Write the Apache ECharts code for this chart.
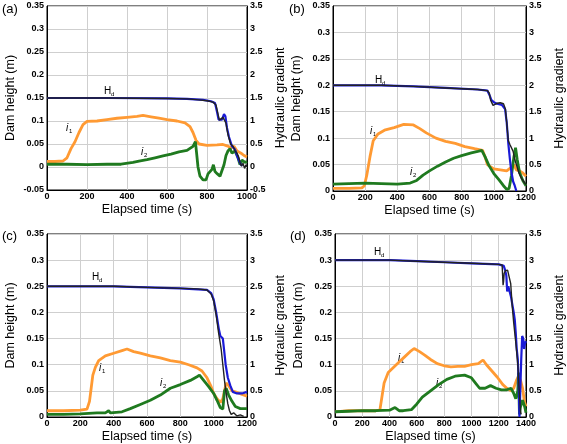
<!DOCTYPE html>
<html><head><meta charset="utf-8">
<script src="https://cdn.jsdelivr.net/npm/echarts@6/dist/echarts.min.js"></script>
<style>html,body{margin:0;padding:0;background:#fff}#c{width:567px;height:444px}</style>
</head><body><div id="c"></div>
<script>
// ---------- Panel (a) ----------
const aHdBlack = [[0,0.15],[300,0.15],[600,0.149],[700,0.148],[760,0.146],[800,0.144],[830,0.141],[845,0.135],[855,0.115],[862,0.102],[872,0.103],[880,0.108],[888,0.112],[895,0.095],[905,0.07],[918,0.05],[930,0.045],[940,0.035],[950,0.03],[958,0.022],[965,0.01],[972,0.002],[980,0.008],[988,-0.003],[995,0.005],[1000,0.0]];
const aHdBlue = [[0,0.15],[300,0.15],[600,0.149],[700,0.148],[780,0.146],[820,0.143],[840,0.139],[850,0.12],[858,0.103],[865,0.1],[875,0.103],[885,0.115],[892,0.11],[900,0.085],[910,0.065],[925,0.045],[940,0.038],[950,0.025],[962,0.012],[970,0.005],[978,0.003]];
const aI1 = [[0,0.12],[40,0.12],[80,0.13],[100,0.2],[120,0.4],[140,0.55],[160,0.75],[180,0.92],[200,0.99],[250,1.0],[300,1.03],[350,1.06],[400,1.08],[450,1.1],[480,1.12],[520,1.09],[560,1.06],[600,1.03],[650,1.0],[690,0.96],[715,0.88],[730,0.75],[745,0.58],[760,0.5],[800,0.47],[850,0.48],[880,0.49],[900,0.46],[920,0.42],[935,0.45],[950,0.35],[970,0.3],[985,0.25],[1000,0.22]];
const aI2 = [[0,0.06],[100,0.06],[200,0.05],[300,0.06],[370,0.06],[380,0.1],[430,0.1],[460,0.13],[500,0.16],[540,0.2],[580,0.24],[620,0.28],[660,0.33],[700,0.36],[730,0.45],[742,0.55],[748,0.3],[755,0.0],[765,-0.2],[780,-0.28],[795,-0.28],[805,-0.15],[815,-0.1],[825,-0.05],[832,0.05],[840,-0.1],[852,-0.15],[865,-0.2],[875,-0.18],[885,0.05],[895,0.25],[905,0.35],[915,0.4],[925,0.3],[940,0.35],[955,0.2],[965,0.05],[975,0.15],[990,0.1],[1000,0.12]];
// ---------- Panel (b) ----------
const bHdBlack = [[0,0.2],[300,0.2],[500,0.198],[700,0.195],[900,0.192],[960,0.19],[972,0.185],[980,0.172],[995,0.162],[1005,0.16],[1020,0.166],[1040,0.167],[1060,0.165],[1072,0.155],[1080,0.13],[1090,0.095],[1100,0.088],[1110,0.085],[1120,0.075],[1130,0.06],[1140,0.05],[1155,0.035],[1170,0.025],[1185,0.018],[1200,0.012]];
const bHdBlue = [[0,0.2],[300,0.2],[500,0.198],[700,0.195],[900,0.192],[960,0.19],[975,0.18],[985,0.172],[1000,0.168],[1020,0.165],[1050,0.163],[1070,0.155],[1080,0.13],[1090,0.09],[1100,0.06],[1110,0.035],[1120,0.018],[1130,0.01],[1140,0.0]];
const bI1 = [[0,0.05],[100,0.05],[180,0.06],[195,0.1],[210,0.3],[230,0.65],[250,0.95],[280,1.08],[320,1.15],[380,1.2],[440,1.26],[500,1.25],[540,1.18],[580,1.1],[640,1.0],[700,0.94],[760,0.9],[820,0.84],[880,0.8],[930,0.77],[945,0.65],[960,0.5],[1000,0.42],[1040,0.4],[1080,0.38],[1110,0.45],[1125,0.5],[1140,0.4],[1160,0.38],[1180,0.34],[1200,0.28]];
const bI2 = [[0,0.13],[100,0.14],[200,0.15],[300,0.14],[400,0.13],[480,0.15],[520,0.2],[560,0.3],[600,0.38],[650,0.47],[700,0.55],[750,0.62],[800,0.67],[860,0.72],[900,0.75],[925,0.77],[945,0.65],[970,0.48],[1000,0.33],[1030,0.22],[1060,0.1],[1080,0.03],[1095,0.05],[1110,0.3],[1125,0.65],[1135,0.82],[1145,0.6],[1160,0.35],[1180,0.2],[1200,0.1]];
// ---------- Panel (c) ----------
const cHdBlack = [[0,0.25],[400,0.25],[600,0.248],[800,0.246],[900,0.245],[960,0.243],[985,0.235],[1000,0.222],[1015,0.195],[1030,0.16],[1045,0.13],[1055,0.1],[1065,0.07],[1075,0.045],[1085,0.025],[1095,0.012],[1105,0.005],[1120,0.008],[1140,0.002],[1160,0.004],[1180,0.001]];
const cHdBlue = [[0,0.25],[400,0.25],[600,0.248],[800,0.246],[960,0.243],[985,0.237],[1000,0.225],[1015,0.2],[1030,0.17],[1040,0.155],[1055,0.15],[1062,0.13],[1072,0.1],[1085,0.075],[1100,0.06],[1115,0.048],[1140,0.045],[1170,0.045],[1200,0.048]];
const cI1 = [[0,0.12],[100,0.12],[200,0.13],[240,0.15],[255,0.3],[265,0.55],[275,0.8],[290,0.95],[310,1.08],[350,1.17],[400,1.22],[450,1.27],[480,1.3],[520,1.25],[560,1.22],[620,1.17],[680,1.13],[740,1.08],[800,1.05],[850,1.0],[900,0.94],[930,0.88],[960,0.75],[985,0.58],[1000,0.45],[1020,0.35],[1040,0.28],[1055,0.35],[1065,0.5],[1075,0.65],[1090,0.6],[1110,0.5],[1140,0.47],[1170,0.43],[1200,0.4]];
const cI2 = [[0,0.05],[100,0.05],[200,0.06],[300,0.08],[350,0.08],[370,0.12],[380,0.08],[450,0.1],[500,0.16],[560,0.24],[620,0.32],[680,0.42],[740,0.55],[800,0.62],[860,0.7],[900,0.77],[915,0.8],[940,0.7],[970,0.58],[1000,0.45],[1020,0.32],[1040,0.18],[1055,0.15],[1065,0.5],[1075,0.55],[1090,0.42],[1110,0.3],[1130,0.2],[1160,0.16],[1200,0.16]];
// ---------- Panel (d) ----------
const dHdBlack = [[0,0.3],[400,0.3],[600,0.298],[800,0.296],[1000,0.294],[1200,0.292],[1225,0.291],[1230,0.29],[1232,0.252],[1236,0.26],[1240,0.275],[1250,0.28],[1265,0.281],[1278,0.278],[1288,0.255],[1298,0.215],[1310,0.18],[1320,0.155],[1330,0.13],[1340,0.1],[1348,0.06],[1355,0.03],[1360,0.01],[1365,0.005]];
const dHdBlue = [[0,0.3],[400,0.3],[600,0.298],[800,0.296],[1000,0.294],[1200,0.292],[1237,0.289],[1248,0.28],[1256,0.27],[1262,0.24],[1270,0.25],[1280,0.24],[1290,0.23],[1300,0.215],[1310,0.2],[1318,0.185],[1325,0.16],[1332,0.13],[1340,0.11],[1347,0.06],[1352,0.0],[1358,0.05],[1365,0.11],[1372,0.155],[1380,0.15],[1386,0.13],[1392,0.14],[1400,0.145]];
const dI1 = [[0,0.1],[100,0.12],[200,0.12],[300,0.12],[330,0.15],[345,0.4],[360,0.65],[390,0.85],[430,0.95],[470,1.05],[510,1.15],[550,1.25],[580,1.31],[620,1.25],[660,1.18],[700,1.1],[750,1.02],[800,0.98],[850,0.96],[900,0.97],[950,0.97],[1000,1.0],[1050,1.02],[1085,1.09],[1110,1.0],[1150,0.88],[1190,0.76],[1230,0.62],[1260,0.55],[1290,0.5],[1310,0.55],[1330,0.7],[1345,0.78],[1360,0.7],[1375,0.55],[1388,0.3],[1400,0.2]];
const dI2 = [[0,0.1],[100,0.11],[200,0.12],[300,0.12],[400,0.13],[440,0.18],[470,0.12],[500,0.12],[560,0.14],[600,0.25],[640,0.38],[700,0.5],[760,0.62],[820,0.72],[880,0.78],[950,0.8],[1000,0.75],[1030,0.65],[1060,0.55],[1100,0.55],[1140,0.6],[1180,0.55],[1220,0.52],[1260,0.52],[1290,0.55],[1310,0.45],[1325,0.35],[1340,0.5],[1345,0.85],[1352,0.05],[1360,0.2],[1375,0.32],[1390,0.2],[1400,0.08]];

const panelTags = ['(a)','(b)','(c)','(d)'];
const xMaxes = [1000, 1200, 1200, 1400];
const leftMins = [-0.05, 0, 0, 0];
const rightMins = [-0.5, 0, 0, 0];
const xTitle = 'Elapsed time (s)';
const leftTitle = 'Dam height (m)';
const rightTitle = 'Hydraulic gradient';

const panels = [
  {hdK:aHdBlack, hdB:aHdBlue, i1:aI1, i2:aI2},
  {hdK:bHdBlack, hdB:bHdBlue, i1:bI1, i2:bI2},
  {hdK:cHdBlack, hdB:cHdBlue, i1:cI1, i2:cI2},
  {hdK:dHdBlack, hdB:dHdBlue, i1:dI1, i2:dI2}
];

// layout
const gridPos = [
  {left:47, top:6, width:200, height:184},
  {left:333, top:6, width:200, height:185},
  {left:47, top:234, width:200, height:184},
  {left:335, top:234, width:200, height:185}
];
const FONT = 'Liberation Sans, Arial, sans-serif';
const tickLab = {color:'#000', fontSize:9, fontWeight:'bold', fontFamily:FONT};
const nameSty = {color:'#000', fontSize:12.5, fontFamily:FONT};
const grids=[], xAxes=[], yAxes=[], series=[];
panels.forEach((p,k)=>{
  grids.push(Object.assign({show:true, borderColor:'#000', borderWidth:1, backgroundColor:'transparent'}, gridPos[k]));
  xAxes.push({type:'value', gridIndex:k, min:0, max:xMaxes[k], interval:200,
    name:xTitle, nameLocation:'middle', nameGap:13, nameTextStyle:nameSty,
    axisLine:{onZero:false, lineStyle:{color:'#000',width:1}}, axisTick:{show:false},
    axisLabel:Object.assign({margin:2, formatter:v=>String(v)}, tickLab),
    splitLine:{show:true, lineStyle:{color:'#cfcfcf', width:1}}});
  yAxes.push({type:'value', gridIndex:k, position:'left', min:leftMins[k], max:0.35, interval:0.05,
    name:leftTitle, nameLocation:'middle', nameGap:30, nameRotate:90, nameTextStyle:nameSty,
    axisLine:{show:true, onZero:false, lineStyle:{color:'#000',width:1}}, axisTick:{show:false},
    axisLabel:Object.assign({margin:3, formatter:v=>String(+v.toFixed(2))}, tickLab),
    splitLine:{show:true, lineStyle:{color:'#cfcfcf', width:1}}});
  yAxes.push({type:'value', gridIndex:k, position:'right', min:rightMins[k], max:3.5, interval:0.5,
    name:rightTitle, nameLocation:'middle', nameGap:27, nameRotate:90, nameTextStyle:nameSty,
    axisLine:{show:true, onZero:false, lineStyle:{color:'#000',width:1}}, axisTick:{show:false},
    axisLabel:Object.assign({margin:3, formatter:v=>String(+v.toFixed(1))}, tickLab),
    splitLine:{show:false}});
  const base = {type:'line', xAxisIndex:k, showSymbol:false, symbol:'none', animation:false, z:2};
  series.push(Object.assign({}, base, {yAxisIndex:2*k+1, data:p.i1, lineStyle:{color:'#ff9a33', width:2.8}}));
  series.push(Object.assign({}, base, {yAxisIndex:2*k+1, data:p.i2, lineStyle:{color:'#1f7a1f', width:2.8}}));
  series.push(Object.assign({}, base, {yAxisIndex:2*k, data:p.hdB, lineStyle:{color:'#1a1ad6', width:2.2}}));
  series.push(Object.assign({}, base, {yAxisIndex:2*k, data:p.hdK, lineStyle:{color:'#222', width:1.4}}));
});

// annotation labels
const ann = [
  {tag:[2,10], hd:[104,91], i1:[66,128], i2:[141,152]},
  {tag:[289,10], hd:[375,80], i1:[370,131], i2:[410,172]},
  {tag:[2,237], hd:[92,277], i1:[99,368], i2:[160,383]},
  {tag:[290,237], hd:[374,252], i1:[398,358], i2:[436,383]}
];
const graphic=[];
ann.forEach((a,k)=>{
  graphic.push({type:'text', left:a.tag[0], top:a.tag[1]-7, style:{text:panelTags[k], fill:'#000', font:'13px '+FONT}});
  graphic.push({type:'text', x:a.hd[0], y:a.hd[1], style:{text:'H', fill:'#000', font:'10px '+FONT, textVerticalAlign:'middle'}});
  graphic.push({type:'text', x:a.hd[0]+7, y:a.hd[1]+3, style:{text:'d', fill:'#000', font:'6px '+FONT, textVerticalAlign:'middle'}});
  graphic.push({type:'text', x:a.i1[0], y:a.i1[1], style:{text:'i', fill:'#000', font:'italic 10px '+FONT, textVerticalAlign:'middle'}});
  graphic.push({type:'text', x:a.i1[0]+3, y:a.i1[1]+3, style:{text:'1', fill:'#000', font:'6px '+FONT, textVerticalAlign:'middle'}});
  graphic.push({type:'text', x:a.i2[0], y:a.i2[1], style:{text:'i', fill:'#000', font:'italic 10px '+FONT, textVerticalAlign:'middle'}});
  graphic.push({type:'text', x:a.i2[0]+3, y:a.i2[1]+3, style:{text:'2', fill:'#000', font:'6px '+FONT, textVerticalAlign:'middle'}});
});

const chart = echarts.init(document.getElementById('c'), null, {renderer:'canvas'});
chart.setOption({animation:false, backgroundColor:'#fff', grid:grids, xAxis:xAxes, yAxis:yAxes, series:series, graphic:graphic});
</script></body></html>
